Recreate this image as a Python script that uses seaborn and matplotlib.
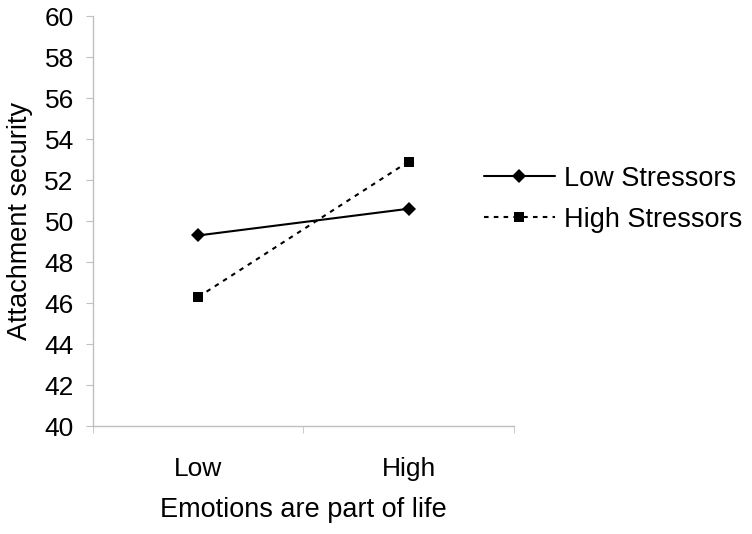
import seaborn as sns
import matplotlib.pyplot as plt
import pandas as pd

# values
emotions = ["Low", "High"]
low_stressors = [49.3, 50.6]
high_stressors = [46.3, 52.9]
groups = ["Low Stressors", "High Stressors"]

df = pd.DataFrame({
    "Emotions": emotions * 2,
    "Security": low_stressors + high_stressors,
    "Group": [groups[0]] * 2 + [groups[1]] * 2,
})

sns.set_style("white")
plt.rcParams["font.family"] = ["Liberation Sans", "DejaVu Sans"]
plt.rcParams["text.color"] = "black"
plt.rcParams["axes.labelcolor"] = "black"
plt.rcParams["xtick.color"] = "black"
plt.rcParams["ytick.color"] = "black"

fig = plt.figure(figsize=(7.52, 5.34), dpi=100)
ax = fig.add_axes([0.124, 0.202, 0.559, 0.768])

sns.lineplot(data=df, x="Emotions", y="Security", hue="Group", style="Group",
             markers={groups[0]: "D", groups[1]: "s"},
             dashes={groups[0]: "", groups[1]: (2.2, 2.5)},
             palette={groups[0]: "black", groups[1]: "black"},
             linewidth=1.5, markeredgewidth=0, ax=ax)
for ln in ax.lines:
    ln.set_markersize(7.5 if ln.get_marker() == "s" else 7)

ax.set_xlim(-0.5, 1.5)
ax.set_ylim(40, 60)
ax.set_yticks(range(40, 61, 2))
ax.set_xticks([0, 1])
ax.set_xticklabels(emotions)
ax.set_xticks([-0.5, 0.5, 1.5], minor=True)
ax.tick_params(axis="x", which="major", length=0, pad=22, labelsize=19)
ax.tick_params(axis="x", which="minor", length=5, color="#c0c0c0", direction="out", bottom=True)
ax.tick_params(axis="y", length=5, color="#c0c0c0", direction="out", left=True, labelsize=19, pad=9)

for s in ["top", "right"]:
    ax.spines[s].set_visible(False)
for s in ["left", "bottom"]:
    ax.spines[s].set_color("#c0c0c0")
    ax.spines[s].set_linewidth(1)

ax.set_xlabel("Emotions are part of life", fontsize=19.5, labelpad=12)
ax.set_ylabel("Attachment security", fontsize=19.5, labelpad=8)

leg = ax.legend(loc="center left", bbox_to_anchor=(0.93, 0.553), frameon=False,
                fontsize=19.5, handlelength=2.6, handletextpad=0.35, labelspacing=0.55,
                borderaxespad=0, borderpad=0)
for h in leg.legend_handles:
    h.set_markersize(7.5 if h.get_marker() == "s" else 7)

fig.savefig("out.png", dpi=100)
